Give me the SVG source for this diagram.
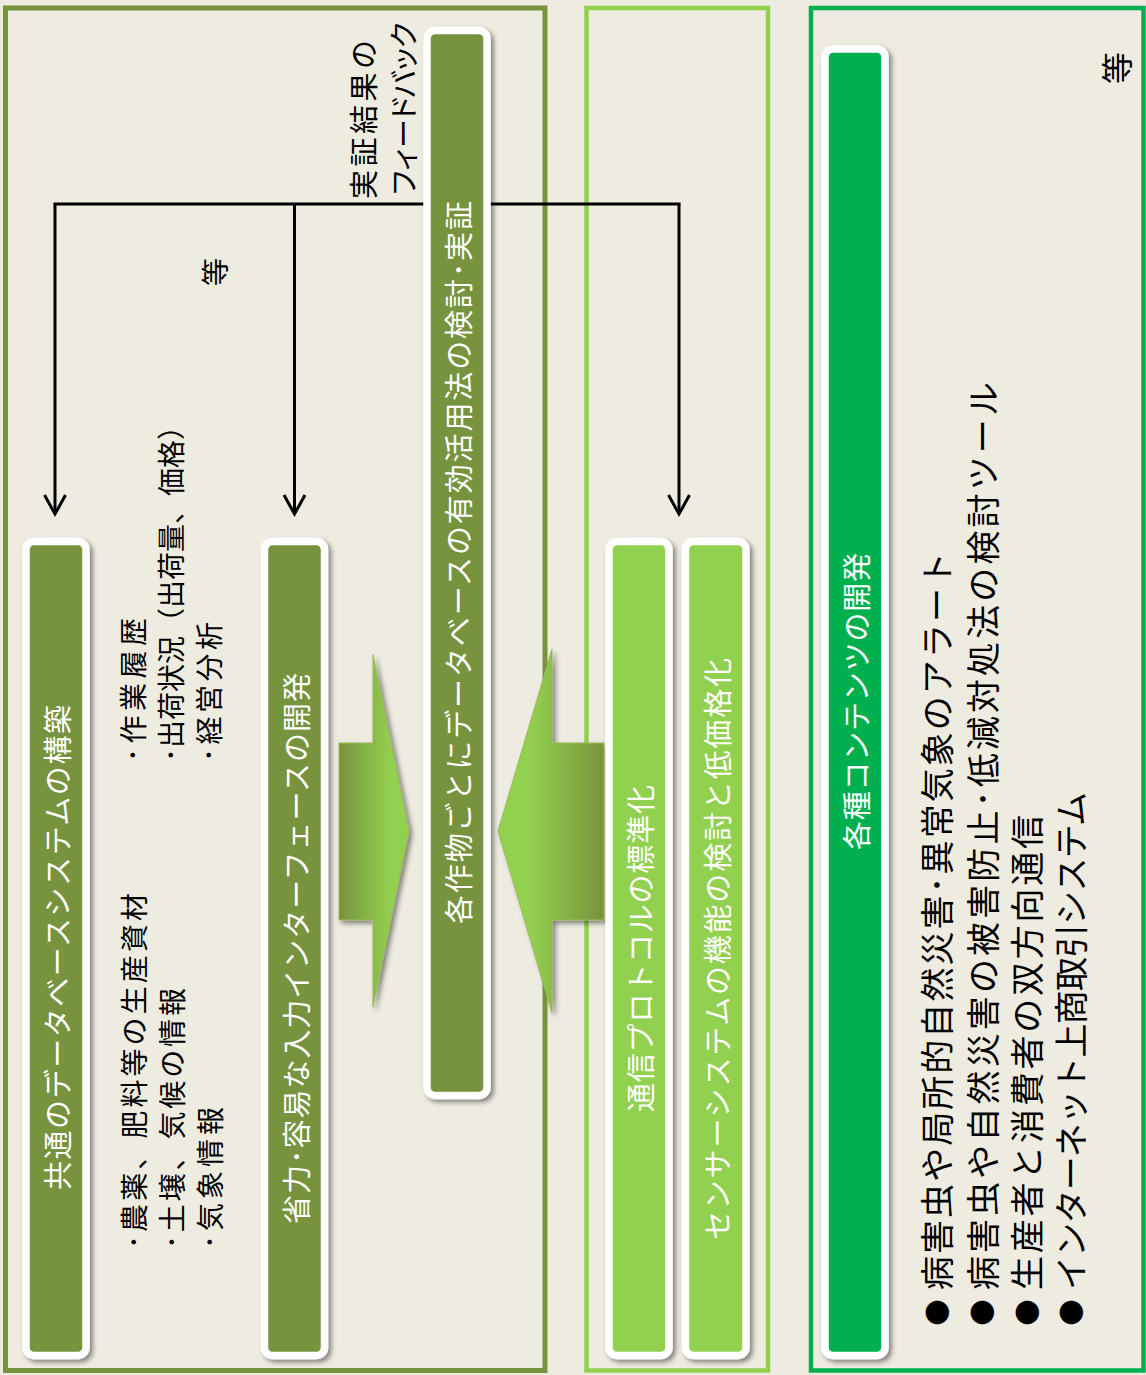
<svg xmlns="http://www.w3.org/2000/svg" width="1146" height="1375" viewBox="0 0 1146 1375">
<style>
text { font-family: "Noto Sans CJK JP", sans-serif; dominant-baseline: central; }
.bt { font-size: 29px; fill: #ffffff; }
.lt { font-size: 28px; fill: #000000; }
.ft { font-size: 29px; fill: #000000; }
.pt { font-size: 34px; fill: #000000; }
.bl { font-size: 26px; fill: #000000; }
.olive { fill: #77933C; stroke: #ffffff; stroke-width: 7.5; }
.lgreen { fill: #92D050; stroke: #ffffff; stroke-width: 7.5; }
.green { fill: #00B050; stroke: #ffffff; stroke-width: 7.5; }
.conn { fill: none; stroke: #000000; stroke-width: 3; }
</style>
<defs>
<filter id="sh" x="-20%" y="-5%" width="140%" height="110%">
<feDropShadow dx="3" dy="3" stdDeviation="2.5" flood-color="#000000" flood-opacity="0.45"/>
</filter>
<linearGradient id="gRight" x1="0" y1="0" x2="1" y2="0">
<stop offset="0" stop-color="#77933C"/>
<stop offset="0.75" stop-color="#92D050"/>
<stop offset="1" stop-color="#92D050"/>
</linearGradient>
<linearGradient id="gLeft" x1="0" y1="0" x2="1" y2="0">
<stop offset="0" stop-color="#92D050"/>
<stop offset="0.3" stop-color="#92D050"/>
<stop offset="1" stop-color="#77933C"/>
</linearGradient>
<marker id="ah" markerUnits="userSpaceOnUse" orient="auto" refX="0" refY="0" markerWidth="1" markerHeight="1" overflow="visible">
<path d="M-19,-10.5 L0,0 L-19,10.5" fill="none" stroke="#000000" stroke-width="3"/>
</marker>
</defs>

<rect x="0" y="0" width="1146" height="1375" fill="#EEECE1"/>

<g id="panel-database">
<rect x="5.5" y="8" width="539.5" height="1362.5" fill="#EEECE1" stroke="#77933C" stroke-width="5"/>
</g>
<g id="panel-sensor">
<rect x="586.5" y="8" width="181.5" height="1362.5" fill="#EEECE1" stroke="#92D050" stroke-width="4.5"/>
</g>
<g id="panel-contents">
<rect x="811" y="8" width="332.5" height="1362.5" fill="#EEECE1" stroke="#00B050" stroke-width="4.5"/>
</g>

<g id="connectors">
<line class="conn" x1="55" y1="204" x2="679" y2="204" stroke-linecap="square"/>
<line class="conn" x1="55" y1="204" x2="55" y2="514" marker-end="url(#ah)"/>
<line class="conn" x1="294.5" y1="204" x2="294.5" y2="514" marker-end="url(#ah)"/>
<line class="conn" x1="679" y1="204" x2="679" y2="514" marker-end="url(#ah)"/>
</g>

<g id="label-feedback">
<text class="ft" transform="translate(362,199) rotate(-90)" textLength="159" lengthAdjust="spacing">実証結果の</text>
<text class="ft" transform="translate(402,197) rotate(-90)" textLength="177" lengthAdjust="spacing">フィードバック</text>
</g>

<g id="arrow-right" filter="url(#sh)">
<polygon points="339,743 373,743 373,655 409,831 373,1007 373,920 339,920" fill="url(#gRight)" stroke="#9BBB59" stroke-width="1"/>
</g>
<g id="arrow-left" filter="url(#sh)">
<polygon points="604,743 552,743 552,649 498,831 552,1013 552,920 604,920" fill="url(#gLeft)" stroke="#9BBB59" stroke-width="1"/>
</g>

<g id="node-common-db">
<rect class="olive" x="26" y="541.5" width="60" height="814" rx="8" filter="url(#sh)"/>
<text class="bt" transform="translate(56,1190) rotate(-90)" textLength="485" lengthAdjust="spacing">共通のデータベースシステムの構築</text>
</g>

<g id="node-list-materials">
<text class="lt" transform="translate(133,1249) rotate(-90)" textLength="356" lengthAdjust="spacing">･農薬、肥料等の生産資材</text>
<text class="lt" transform="translate(171,1249) rotate(-90)" textLength="261" lengthAdjust="spacing">･土壌、気候の情報</text>
<text class="lt" transform="translate(209,1249) rotate(-90)" textLength="142" lengthAdjust="spacing">･気象情報</text>
</g>

<g id="node-list-records">
<text class="lt" transform="translate(132,762) rotate(-90)" textLength="144" lengthAdjust="spacing">･作業履歴</text>
<text class="lt" transform="translate(170,762) rotate(-90)" textLength="350" lengthAdjust="spacing">･出荷状況（出荷量、価格）</text>
<text class="lt" transform="translate(208,762) rotate(-90)" textLength="140" lengthAdjust="spacing">･経営分析</text>
</g>

<g id="label-etc-1">
<text class="lt" transform="translate(214,272) rotate(-90)" text-anchor="middle">等</text>
</g>

<g id="node-input-interface">
<rect class="olive" x="264.5" y="541.5" width="60" height="814" rx="8" filter="url(#sh)"/>
<text class="bt" transform="translate(294.5,1224) rotate(-90)" textLength="551" lengthAdjust="spacing">省力･容易な入力インターフェースの開発</text>
</g>

<g id="node-crop-db">
<rect class="olive" x="427" y="30.5" width="60" height="1065" rx="8" filter="url(#sh)"/>
<text class="bt" transform="translate(457,924) rotate(-90)" textLength="723" lengthAdjust="spacing">各作物ごとにデータベースの有効活用法の検討･実証</text>
</g>

<g id="node-protocol">
<rect class="lgreen" x="609" y="541.5" width="60" height="814" rx="8" filter="url(#sh)"/>
<text class="bt" transform="translate(639,1112) rotate(-90)" textLength="327" lengthAdjust="spacing">通信プロトコルの標準化</text>
</g>

<g id="node-sensor">
<rect class="lgreen" x="685.5" y="541.5" width="60.5" height="814" rx="8" filter="url(#sh)"/>
<text class="bt" transform="translate(715.5,1240) rotate(-90)" textLength="582" lengthAdjust="spacing">センサーシステムの機能の検討と低価格化</text>
</g>

<g id="node-contents">
<rect class="green" x="825" y="49" width="60" height="1306.5" rx="8" filter="url(#sh)"/>
<text class="bt" transform="translate(855,850) rotate(-90)" textLength="297" lengthAdjust="spacing">各種コンテンツの開発</text>
</g>

<g id="node-list-contents">
<text class="bl" transform="translate(935,1312.5) rotate(-90)" text-anchor="middle">●</text>
<text class="pt" transform="translate(935,1290) rotate(-90)" textLength="738" lengthAdjust="spacing">病害虫や局所的自然災害･異常気象のアラート</text>
<text class="bl" transform="translate(980,1312.5) rotate(-90)" text-anchor="middle">●</text>
<text class="pt" transform="translate(981,1290) rotate(-90)" textLength="908" lengthAdjust="spacing">病害虫や自然災害の被害防止･低減対処法の検討ツール</text>
<text class="bl" transform="translate(1025,1312.5) rotate(-90)" text-anchor="middle">●</text>
<text class="pt" transform="translate(1025,1290) rotate(-90)" textLength="475" lengthAdjust="spacing">生産者と消費者の双方向通信</text>
<text class="bl" transform="translate(1069,1312.5) rotate(-90)" text-anchor="middle">●</text>
<text class="pt" transform="translate(1069,1290) rotate(-90)" textLength="498" lengthAdjust="spacing">インターネット上商取引システム</text>
</g>

<g id="label-etc-2">
<text class="pt" transform="translate(1115,68) rotate(-90)" text-anchor="middle" style="font-size:32px">等</text>
</g>
</svg>
